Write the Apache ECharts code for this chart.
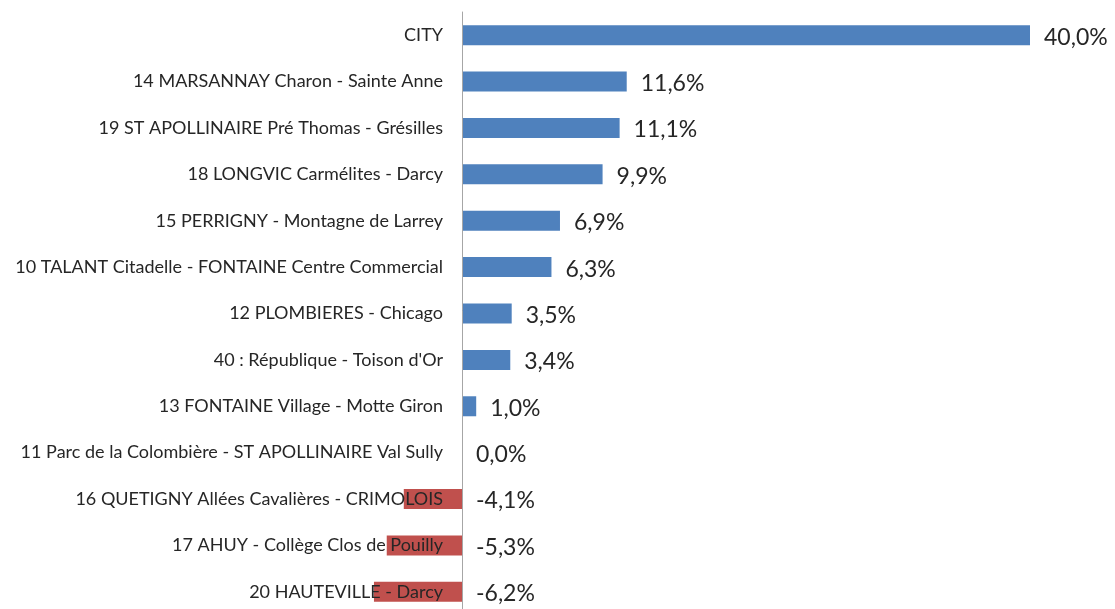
<!DOCTYPE html>
<html>
<head>
<meta charset="utf-8">
<script src="https://cdn.jsdelivr.net/npm/echarts@6/dist/echarts.min.js"></script>
<style>
  html, body { margin: 0; padding: 0; background: #fff; }
  #chart { width: 1115px; height: 609px; }
</style>
</head>
<body>
<div id="chart"></div>
<script>
// lignes (de haut en bas)
var categories = [
  'CITY',
  '14 MARSANNAY Charon - Sainte Anne',
  '19 ST APOLLINAIRE Pré Thomas - Grésilles',
  '18 LONGVIC Carmélites - Darcy',
  '15 PERRIGNY - Montagne de Larrey',
  '10 TALANT Citadelle - FONTAINE Centre Commercial',
  '12 PLOMBIERES - Chicago',
  '40 : République - Toison d\'Or',
  '13 FONTAINE Village - Motte Giron',
  '11 Parc de la Colombière - ST APOLLINAIRE Val Sully',
  '16 QUETIGNY Allées Cavalières - CRIMOLOIS',
  '17 AHUY - Collège Clos de Pouilly',
  '20 HAUTEVILLE - Darcy'
];
// évolution en %
var values = [40.0, 11.6, 11.1, 9.9, 6.9, 6.3, 3.5, 3.4, 1.0, 0.0, -4.1, -5.3, -6.2];

var myChart = echarts.init(document.getElementById('chart'));

var option = {
  backgroundColor: '#fff',
  animation: false,
  grid: {
    left: 320,
    right: 85,
    top: 12,
    bottom: -6,
    outerBoundsMode: 'none'
  },
  xAxis: {
    type: 'value',
    min: -10,
    max: 40,
    show: false
  },
  yAxis: {
    type: 'category',
    data: categories,
    inverse: true,
    z: 10,
    axisLine: { onZero: false, lineStyle: { color: '#A6A6A6', width: 1 } },
    axisTick: { show: false },
    position: 'left',
    offset: -142,
    axisLabel: {
      margin: 19,
      fontFamily: 'Lato',
      fontSize: 18,
      color: '#262626'
    }
  },
  series: [{
    type: 'bar',
    barWidth: 20,
    z: 2,
    data: values.map(function (v) {
      return {
        value: v,
        itemStyle: { color: v < 0 ? '#C0504D' : '#4F81BD' }
      };
    }),
    label: {
      show: true,
      position: 'right',
      distance: 14,
      offset: [0, 2],
      fontFamily: 'Lato',
      fontSize: 23,
      color: '#262626',
      formatter: function (p) {
        return p.value.toFixed(1).replace('.', ',') + '%';
      }
    }
  }]
};

myChart.setOption(option);
</script>
</body>
</html>
